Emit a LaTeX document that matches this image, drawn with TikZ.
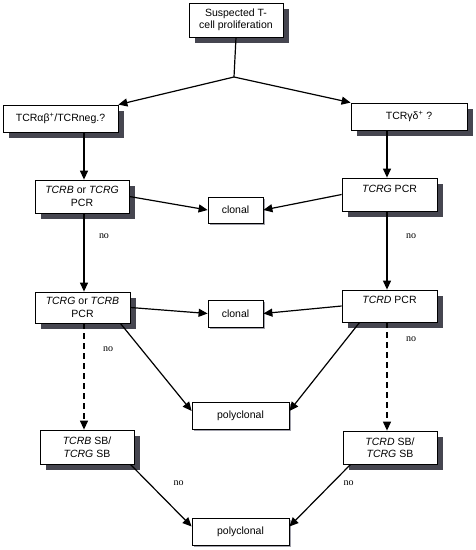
\documentclass[tikz,border=0pt]{standalone}
\usepackage{fontspec}
\setmainfont{Liberation Sans}
\newfontfamily\nofont{Liberation Serif}
\usetikzlibrary{%
  arrows.meta,%
  positioning,%
  calc
}
\definecolor{shadowdark}{RGB}{70,70,80}
\definecolor{shadowlight}{RGB}{160,160,170}

\begin{document}
\begin{tikzpicture}
[x=1pt, y=-1pt, font=\fontsize{10.5}{12.5}\selectfont, line width=1.2pt,
>={Triangle[length=9pt,width=8pt]},
test/.style={rectangle, draw, line width=0.8pt, fill=white, align=center, inner sep=0pt},
upper/.style={text height=7.5pt, text depth=12pt},
result/.style={rectangle, draw, line width=0.8pt, fill=white, inner sep=0pt},
bigshadow/.style={fill=shadowdark, draw=none},
smallshadow/.style={fill=shadowlight, draw=none},
tag/.style={font=\nofont\fontsize{10}{12}\selectfont, inner sep=0pt},
dashline/.style={dash pattern=on 6pt off 4pt}]

\useasboundingbox (0,0) rectangle (475,550);

% shadows first, boxes on top
\fill[bigshadow] (195,9) rectangle (289,43);
\fill[bigshadow] (9,111) rectangle (124,138);
\fill[bigshadow] (357,109) rectangle (473,136);
\fill[bigshadow] (41,186) rectangle (135,219);
\fill[bigshadow] (348,184) rectangle (443,217);
\fill[bigshadow] (41,298) rectangle (136,329);
\fill[bigshadow] (348,296) rectangle (443,328);
\fill[bigshadow] (46,436) rectangle (140,470);
\fill[bigshadow] (349,437) rectangle (443,470);
\fill[smallshadow] (210,199) rectangle (265,225);
\fill[smallshadow] (210,302) rectangle (265,329);
\fill[smallshadow] (194,404) rectangle (291,431);
\fill[smallshadow] (194,520) rectangle (291,547);

\node[test, minimum width=94pt, minimum height=34pt] (start) at (236,20) {Suspected T-\\cell proliferation};
\node[test, minimum width=115pt, minimum height=27pt] (ab) at (60.5,118.5) {TCRαβ\textsuperscript{+}/TCRneg.?};
\node[test, minimum width=116pt, minimum height=27pt] (gd) at (409,116.5) {TCRγδ\textsuperscript{+} ?};

\node[test, minimum width=94pt, minimum height=33pt] (pcrL1) at (82,196.5) {\textit{TCRB} or \textit{TCRG}\\PCR};
\node[test, upper, minimum width=95pt, minimum height=33pt] (pcrR1) at (389.5,194.5) {\textit{TCRG} PCR};
\node[result, minimum width=55pt, minimum height=26pt] (clonal1) at (235.5,210) {clonal};

\node[test, minimum width=95pt, minimum height=31pt] (pcrL2) at (82.5,307.5) {\textit{TCRG} or \textit{TCRB}\\PCR};
\node[test, upper, minimum width=95pt, minimum height=32pt] (pcrR2) at (389.5,306) {\textit{TCRD} PCR};
\node[result, minimum width=55pt, minimum height=27pt] (clonal2) at (235.5,313.5) {clonal};

\node[result, minimum width=97pt, minimum height=27pt] (poly1) at (240.5,415.5) {polyclonal};
\node[test, minimum width=94pt, minimum height=34pt] (sbL) at (87,447) {\textit{TCRB} SB/\\\textit{TCRG} SB};
\node[test, minimum width=94pt, minimum height=33pt] (sbR) at (390,447.5) {\textit{TCRD} SB/\\\textit{TCRG} SB};
\node[result, minimum width=97pt, minimum height=27pt] (poly2) at (240.5,531.5) {polyclonal};

\foreach \x/\y/\c in {104/236/1, 411/236/2, 108/349/3, 411/339/4, 178.5/483/5, 348.5/483/6} {
  \node[tag] (no\c) at (\x,\y) {no};
}

\coordinate (split) at (234,77);
\draw (start.south) -- (split);
\draw[->] (split) -- (ab.north east);
\draw[->] (split) -- (gd.north west);

\draw[->] ($(pcrL1.north |- ab.south)+(2,0)$) -- ($(pcrL1.north)+(2,0)$);
\draw[->] ($(pcrR1.north |- gd.south)+(-2.5,0)$) -- ($(pcrR1.north)+(-2.5,0)$);
\draw[->] (pcrL1.east) -- (clonal1.west);
\draw[->] (pcrR1.west) -- (clonal1.east);

\draw[->] ($(pcrL1.south)+(2,0)$) -- ($(pcrL2.north)+(1.5,0)$);
\draw[->] ($(pcrR1.south)+(-2.5,0)$) -- ($(pcrR1.south |- pcrR2.north)+(-2.5,0)$);
\draw[->] (pcrL2.east) -- (clonal2.west);
\draw[->] (pcrR2.west) -- (clonal2.east);

\draw[->] ($(pcrL2.south east)+(-10,0)$) -- ([yshift=4.5pt]poly1.west);
\draw[->] ($(pcrR2.south west)+(18,0)$) -- ([yshift=4.5pt]poly1.east);
\draw[->, dashline] ($(pcrL2.south)+(1.5,0)$) -- ($(pcrL2.south |- sbL.north)+(1.5,0)$);
\draw[->, dashline] ($(pcrR2.south)+(-2.5,0)$) -- ($(pcrR2.south |- sbR.north)+(-2.5,0)$);

\draw[->] ($(sbL.south east)+(-4,0)$) -- ([yshift=5pt]poly2.west);
\draw[->] ($(sbR.south west)+(8,0)$) -- ([yshift=5pt]poly2.east);

\end{tikzpicture}
\end{document}
